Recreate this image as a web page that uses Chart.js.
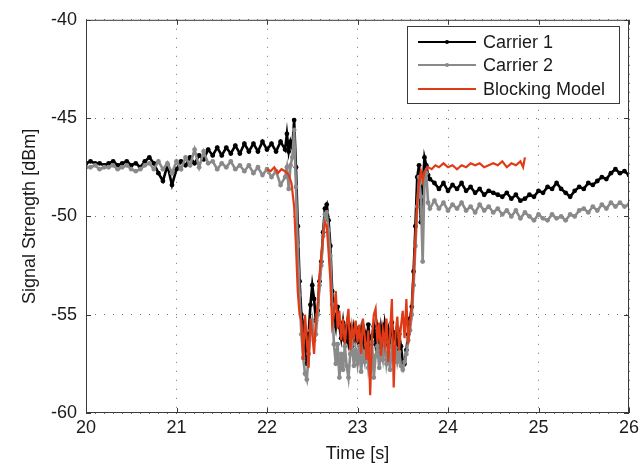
<!DOCTYPE html>
<html>
<head>
<meta charset="utf-8">
<script src="https://cdn.jsdelivr.net/npm/chart.js@4.4.1/dist/chart.umd.min.js"></script>
<style>
  body { margin: 0; background: #fff; }
  canvas { display: block; }
</style>
</head>
<body>
<canvas id="signalChart" width="644" height="469"></canvas>
<script>
// time axis for the two carriers (s)
const carrierTime = [
  20.00, 20.05, 20.10, 20.15, 20.20, 20.25, 20.30, 20.35, 20.40, 20.45,
  20.50, 20.55, 20.60, 20.65, 20.70, 20.75, 20.80, 20.85, 20.90, 20.95,
  21.00, 21.05, 21.10, 21.15, 21.20, 21.25, 21.30, 21.35, 21.40, 21.45,
  21.50, 21.55, 21.60, 21.65, 21.70, 21.75, 21.80, 21.85, 21.90, 21.95,
  22.00, 22.05, 22.10, 22.15, 22.20,
  22.22, 22.24, 22.26, 22.28, 22.30, 22.32, 22.34, 22.36, 22.38, 22.40,
  22.42, 22.44, 22.46, 22.48, 22.50, 22.52, 22.54, 22.56, 22.58, 22.60,
  22.62, 22.64, 22.66, 22.68, 22.70, 22.72, 22.74, 22.76, 22.78, 22.80,
  22.82, 22.84, 22.86, 22.88, 22.90, 22.92, 22.94, 22.96, 22.98, 23.00,
  23.02, 23.04, 23.06, 23.08, 23.10, 23.12, 23.14, 23.16, 23.18, 23.20,
  23.22, 23.24, 23.26, 23.28, 23.30, 23.32, 23.34, 23.36, 23.38, 23.40,
  23.42, 23.44, 23.46, 23.48, 23.50, 23.52, 23.54, 23.56, 23.58, 23.60,
  23.62, 23.64, 23.66, 23.68, 23.70, 23.72, 23.74, 23.76, 23.78, 23.80,
  23.85, 23.90, 23.95, 24.00, 24.05, 24.10, 24.15, 24.20, 24.25, 24.30,
  24.35, 24.40, 24.45, 24.50, 24.55, 24.60, 24.65, 24.70, 24.75, 24.80,
  24.85, 24.90, 24.95, 25.00, 25.05, 25.10, 25.15, 25.20, 25.25, 25.30,
  25.35, 25.40, 25.45, 25.50, 25.55, 25.60, 25.65, 25.70, 25.75, 25.80,
  25.85, 25.90, 25.95, 26.00
];

// Carrier 1 (dBm)
const carrier1 = [
  -47.3, -47.2, -47.3, -47.3, -47.4, -47.3, -47.2, -47.4, -47.3, -47.2,
  -47.4, -47.3, -47.5, -47.2, -47.0, -47.3, -47.8, -48.2, -47.4, -48.4,
  -47.6, -47.2, -47.4, -47.0, -47.3, -46.9, -47.1, -46.6, -46.9, -46.5,
  -46.9, -46.5, -46.8, -46.4, -46.8, -46.3, -46.7, -46.3, -46.7, -46.2,
  -46.6, -46.3, -46.7, -46.2, -46.6,
  -45.8, -46.7, -46.2, -46.5, -45.1, -47.5, -50.5, -53.3, -55.0, -55.5,
  -56.5, -57.5, -56.0, -54.5, -53.5, -54.2, -55.3, -54.8, -53.3, -52.3,
  -50.8, -49.6, -49.4, -50.2, -51.5, -53.8, -55.0, -55.6, -54.6, -55.6,
  -56.2, -55.4, -56.3, -55.6, -56.4, -55.8, -56.6, -55.7, -56.3, -55.9,
  -56.5, -55.8, -56.7, -55.9, -56.4, -55.5, -56.8, -56.1, -55.6, -56.5,
  -55.8, -56.9, -55.7, -56.4, -55.5, -56.3, -55.8, -56.6, -55.4, -56.2,
  -55.9, -56.8, -56.0, -56.6, -57.4, -57.5, -56.8, -56.0, -55.2, -54.6,
  -52.8, -50.5, -48.0, -47.4, -50.3, -48.5, -47.0, -47.4, -47.9, -48.1,
  -48.3, -48.6, -48.3, -48.7, -48.4, -48.6, -48.3, -48.7, -48.5, -48.8,
  -48.6, -48.9, -48.7, -48.8, -48.9, -49.0, -48.8, -49.1, -48.9, -49.2,
  -49.1, -48.9, -49.0, -48.7, -48.8, -48.5, -48.6, -48.3, -48.6, -48.8,
  -49.0, -48.7, -48.5, -48.6, -48.3, -48.4, -48.2, -48.0, -48.1, -47.8,
  -47.6, -47.8, -47.7, -47.9
];

// Carrier 2 (dBm)
const carrier2 = [
  -47.5, -47.5, -47.4, -47.6, -47.5, -47.5, -47.4, -47.6, -47.5, -47.4,
  -47.6, -47.7, -47.6, -47.4, -47.3, -47.6, -47.2, -47.6, -47.3, -47.8,
  -47.2, -47.6, -47.0, -47.4, -46.6, -47.5, -46.7, -47.3, -47.2, -47.6,
  -47.3, -47.5, -47.2, -47.6, -47.4, -47.7, -47.4, -47.8, -47.5, -47.9,
  -47.6, -48.0, -47.7, -48.4, -48.0,
  -47.5, -48.6, -47.4, -47.0, -45.6, -48.5, -51.5, -54.0, -56.0, -57.2,
  -58.0, -58.3, -57.0, -55.8, -55.3, -56.3, -56.0, -55.0, -53.5, -52.5,
  -51.0, -49.9, -49.8, -50.7, -52.0, -54.5, -56.5, -57.5, -56.5, -58.2,
  -57.0, -57.8, -56.6, -57.6, -58.2, -57.0, -56.5, -57.6, -56.8, -57.5,
  -56.6, -57.9, -56.9, -57.4, -56.5, -57.7, -57.0, -56.4, -58.2, -57.1,
  -56.6, -57.7, -56.8, -57.3, -56.4, -57.5, -56.9, -57.8, -56.6, -57.2,
  -56.7, -57.4, -56.9, -57.6, -57.8, -57.4, -57.0, -56.3, -55.8, -55.0,
  -53.5, -51.5, -49.5, -48.0, -49.0, -52.3, -48.2, -47.8, -49.3, -49.6,
  -49.2, -49.6, -49.3, -49.7, -49.4, -49.6, -49.3, -49.7, -49.5, -49.8,
  -49.4, -49.7, -49.5, -49.8, -49.6, -49.9, -49.7, -50.0, -49.7, -50.1,
  -49.8, -50.0, -50.2, -49.9, -50.1, -50.2, -49.9, -50.1, -50.0, -50.2,
  -49.9, -50.0, -49.7, -49.6, -49.8, -49.5, -49.7, -49.4, -49.6, -49.3,
  -49.5, -49.3, -49.5, -49.4
];

// Blocking model (s, dBm)
const modelTime = [
  22.00, 22.04, 22.08, 22.12, 22.16, 22.20, 22.24, 22.27, 22.30, 22.32,
  22.34, 22.36, 22.38, 22.40, 22.42, 22.44, 22.46, 22.48, 22.50, 22.52,
  22.54, 22.56, 22.58, 22.60, 22.62, 22.64, 22.66, 22.68, 22.70, 22.72,
  22.74, 22.76, 22.78, 22.80, 22.82, 22.84, 22.86, 22.88, 22.90, 22.92,
  22.94, 22.96, 22.98, 23.00, 23.02, 23.04, 23.06, 23.08, 23.10, 23.12,
  23.14, 23.16, 23.18, 23.20, 23.22, 23.24, 23.26, 23.28, 23.30, 23.32,
  23.34, 23.36, 23.38, 23.40, 23.42, 23.44, 23.46, 23.48, 23.50, 23.52,
  23.54, 23.56, 23.58, 23.60, 23.62, 23.64, 23.66, 23.68, 23.70, 23.72,
  23.74, 23.78, 23.82, 23.86, 23.90, 23.95, 24.00, 24.05, 24.10, 24.15,
  24.20, 24.25, 24.30, 24.35, 24.40, 24.45, 24.50, 24.55, 24.60, 24.65,
  24.70, 24.75, 24.80, 24.83, 24.85
];
const blockingModel = [
  -47.6, -47.7, -47.5, -47.8, -47.6, -47.7, -47.9, -48.3, -49.5, -51.5,
  -53.8, -55.0, -55.3, -57.3, -55.0, -56.3, -57.7, -55.2, -56.0, -57.0,
  -55.3, -54.5, -53.0, -52.0, -51.0, -50.3, -50.5, -51.8, -53.2, -55.5,
  -55.0, -53.8, -55.7, -54.8, -56.3, -55.2, -56.5, -55.5, -54.7, -56.8,
  -55.6, -56.2, -55.3, -56.4, -55.5, -57.0, -55.2, -56.1, -57.3, -55.8,
  -59.1, -56.2, -55.0, -54.7, -56.4, -55.4, -57.1, -55.8, -56.5, -55.2,
  -57.4, -55.9, -54.2, -58.7, -56.0, -55.1, -56.8, -55.6, -54.8, -56.2,
  -54.2, -56.5, -55.4, -54.6, -53.0, -51.2, -49.3, -48.2, -47.7, -48.2,
  -47.7, -47.5, -47.6, -47.4, -47.5, -47.3, -47.5, -47.4, -47.6, -47.4,
  -47.5, -47.3, -47.4, -47.3, -47.5, -47.4, -47.3, -47.4, -47.2, -47.5,
  -47.3, -47.4, -47.2, -47.5, -47.0
];

const seriesNames = ['Carrier 1', 'Carrier 2', 'Blocking Model'];
const seriesColors = ['#000000', '#8a8a8a', '#e03a16'];

const fontFamily = '"Liberation Sans", Arial, Helvetica, sans-serif';

function toPoints(xs, ys) {
    return xs.map((x, i) => ({ x: x, y: ys[i] }));
}

// box around the plot, inner tick marks and the legend box
const matlabFrame = {
    id: 'matlabFrame',
    afterDatasetsDraw(chart) {
        const ctx = chart.ctx;
        const a = chart.chartArea;
        const xs = chart.scales.x;
        const ys = chart.scales.y;
        ctx.save();
        ctx.strokeStyle = '#3a3a3a';
        ctx.lineWidth = 1;
        ctx.strokeRect(a.left + 0.5, a.top + 0.5, a.right - a.left - 1, a.bottom - a.top - 1);
        ctx.beginPath();
        xs.ticks.forEach(t => {
            const px = Math.round(xs.getPixelForValue(t.value)) + 0.5;
            ctx.moveTo(px, a.bottom); ctx.lineTo(px, a.bottom - 5);
            ctx.moveTo(px, a.top); ctx.lineTo(px, a.top + 5);
        });
        ys.ticks.forEach(t => {
            const py = Math.round(ys.getPixelForValue(t.value)) + 0.5;
            ctx.moveTo(a.left, py); ctx.lineTo(a.left + 5, py);
            ctx.moveTo(a.right, py); ctx.lineTo(a.right - 5, py);
        });
        ctx.stroke();

        // legend
        const bx = 407, by = 26, bw = 212, bh = 77;
        ctx.fillStyle = '#ffffff';
        ctx.fillRect(bx, by, bw, bh);
        ctx.strokeRect(bx + 0.5, by + 0.5, bw, bh);
        const rows = [42, 65, 89];
        ctx.font = '18px ' + fontFamily;
        ctx.textBaseline = 'middle';
        chart.data.datasets.forEach((ds, i) => {
            const y = rows[i];
            ctx.strokeStyle = ds.borderColor;
            ctx.lineWidth = 2;
            ctx.beginPath();
            ctx.moveTo(418, y); ctx.lineTo(476, y);
            ctx.stroke();
            if (ds.pointRadius > 0) {
                ctx.fillStyle = ds.borderColor;
                ctx.beginPath();
                ctx.arc(447, y, 2, 0, Math.PI * 2);
                ctx.fill();
            }
            ctx.fillStyle = '#1a1a1a';
            ctx.fillText(ds.label, 483, y + 1);
        });
        ctx.restore();
    }
};

const ctx = document.getElementById('signalChart').getContext('2d');
const chart = new Chart(ctx, {
    type: 'line',
    data: {
        datasets: [{
            label: seriesNames[0],
            data: toPoints(carrierTime, carrier1),
            borderColor: seriesColors[0],
            backgroundColor: seriesColors[0],
            borderWidth: 2.6,
            pointRadius: 2.4,
            pointBorderWidth: 0,
            order: 3
        },
        {
            label: seriesNames[1],
            data: toPoints(carrierTime, carrier2),
            borderColor: seriesColors[1],
            backgroundColor: seriesColors[1],
            borderWidth: 2.6,
            pointRadius: 2.4,
            pointBorderWidth: 0,
            order: 2
        },
        {
            label: seriesNames[2],
            data: toPoints(modelTime, blockingModel),
            borderColor: seriesColors[2],
            backgroundColor: seriesColors[2],
            borderWidth: 2.2,
            pointRadius: 0,
            order: 1
        }]
    },
    options: {
        responsive: false,
        animation: false,
        devicePixelRatio: 1,
        layout: { padding: { top: 16, right: 15, left: 0, bottom: 0 } },
        plugins: {
            legend: { display: false },
            tooltip: { enabled: false }
        },
        elements: { line: { tension: 0 } },
        scales: {
            x: {
                type: 'linear',
                min: 20,
                max: 26,
                afterFit: s => { s.height = 56; },
                ticks: {
                    stepSize: 1,
                    padding: 4,
                    color: '#1a1a1a',
                    font: { family: fontFamily, size: 18 }
                },
                grid: { color: 'rgba(0,0,0,0.55)', drawTicks: false },
                border: { display: false, dash: [1, 8] },
                title: {
                    display: true,
                    text: 'Time [s]',
                    color: '#1a1a1a',
                    font: { family: fontFamily, size: 18 },
                    padding: { top: 0, bottom: 4 }
                }
            },
            y: {
                min: -60,
                max: -40,
                afterFit: s => { s.width = 86; },
                ticks: {
                    stepSize: 5,
                    padding: 9,
                    color: '#1a1a1a',
                    font: { family: fontFamily, size: 18 }
                },
                grid: { color: 'rgba(0,0,0,0.55)', drawTicks: false },
                border: { display: false, dash: [1, 8] },
                title: {
                    display: true,
                    text: 'Signal Strength [dBm]',
                    color: '#1a1a1a',
                    font: { family: fontFamily, size: 18 },
                    padding: { top: 19, bottom: 0 }
                }
            }
        }
    },
    plugins: [matlabFrame]
});
</script>
</body>
</html>
